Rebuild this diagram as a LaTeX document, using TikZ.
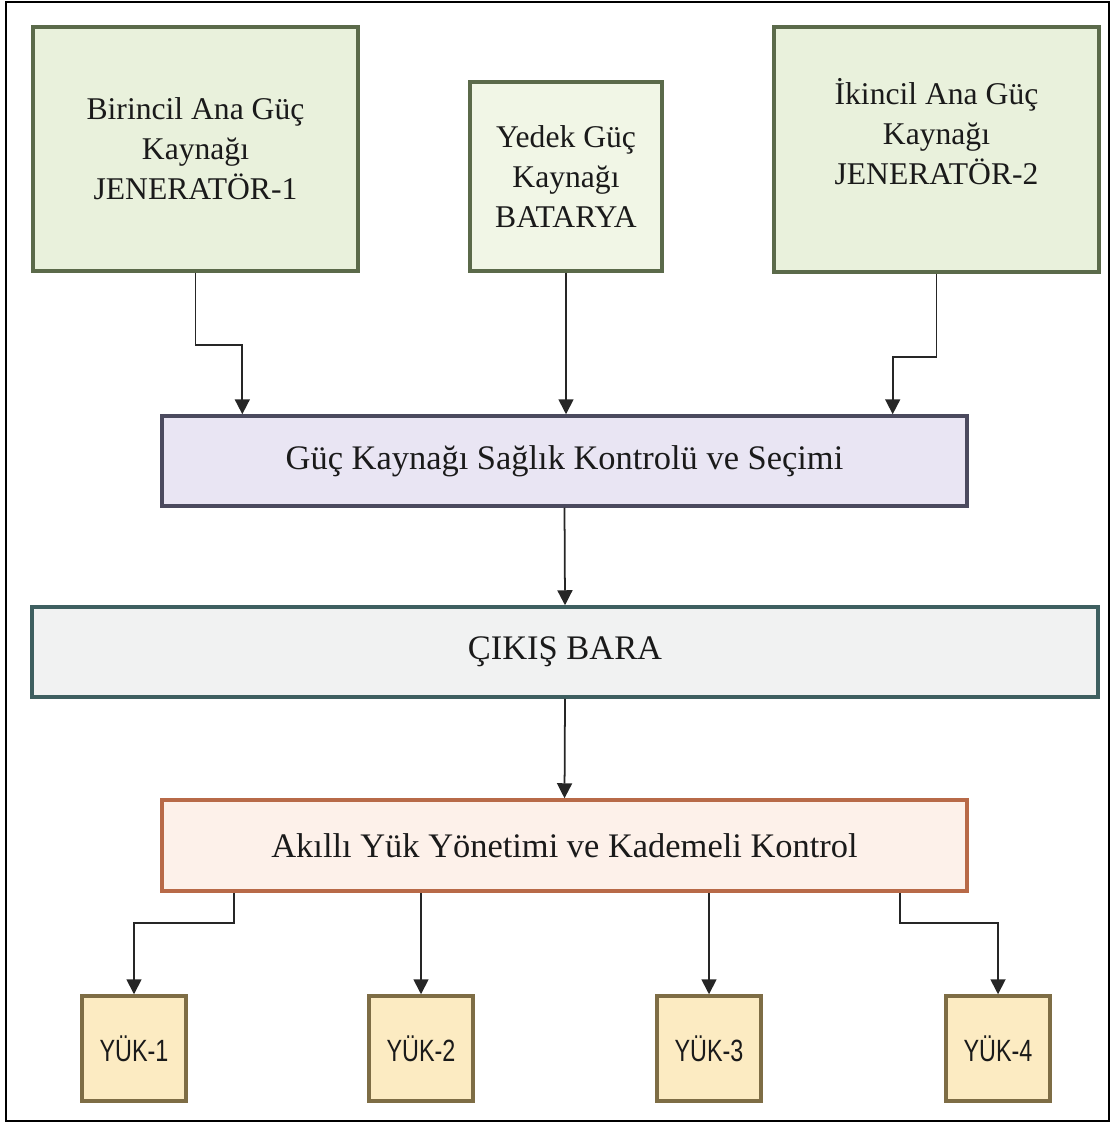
\documentclass[tikz,border=0pt]{standalone}
\usepackage{fontspec}
\setmainfont{Liberation Serif}
\newfontfamily\yukfont{Liberation Sans}[FakeStretch=0.76]
\usetikzlibrary{arrows.meta}
\definecolor{genfill}{HTML}{E9F1DC}
\definecolor{batfill}{HTML}{F1F6E6}
\definecolor{gendraw}{HTML}{5B6A4A}
\definecolor{ctrlfill}{HTML}{E9E5F3}
\definecolor{ctrldraw}{HTML}{4B4A5E}
\definecolor{barafill}{HTML}{F1F2F2}
\definecolor{baradraw}{HTML}{3E5F60}
\definecolor{yonfill}{HTML}{FDF1EA}
\definecolor{yondraw}{HTML}{B86A48}
\definecolor{yukfill}{HTML}{FCEBC2}
\definecolor{yukdraw}{HTML}{7E6D45}
\definecolor{txt}{HTML}{1A1A1A}
\tikzset{
  kaynak/.style={draw=gendraw, fill=genfill, line width=2pt, align=center, text=txt,
    font=\fontsize{18}{22.7}\selectfont, inner sep=0pt},
  blok/.style={draw=#1draw, fill=#1fill, line width=2pt, text=txt,
    font=\fontsize{19.6}{22}\selectfont, inner sep=0pt},
  yuk/.style={draw=yukdraw, fill=yukfill, line width=2pt, text=txt,
    font=\yukfont\fontsize{17.5}{20}\selectfont, inner sep=0pt,
    minimum width=2.08cm, minimum height=2.1cm},
  bag/.style={draw=black!85, line width=1pt, -{Triangle[length=0.3cm,width=0.3cm]}}
}
\begin{document}
\begin{tikzpicture}[x=0.02cm, y=-0.02cm]
\useasboundingbox (0,0) rectangle (1112,1124);
\draw[line width=1.5pt] (6,2) rectangle (1109,1121);

\node[kaynak, minimum width=6.5cm, minimum height=4.88cm] (gen1) at (195.5,149)
  {Birincil Ana Güç\\Kaynağı\\JENERATÖR-1};
\node[kaynak, fill=batfill, minimum width=3.84cm, minimum height=3.78cm] (bat) at (566,176.5)
  {Yedek Güç\\Kaynağı\\BATARYA};
\node[kaynak, minimum width=6.5cm, minimum height=4.9cm,
  label={[kaynak, draw=none, fill=none, yshift=0.36cm]center:{İkincil Ana Güç\\Kaynağı\\JENERATÖR-2}}]
  (gen2) at (936.5,149.5) {};

\node[blok=ctrl, minimum width=16.1cm, minimum height=1.8cm] (ctrl) at (564.5,461)
  {Güç Kaynağı Sağlık Kontrolü ve Seçimi};
\node[blok=bara, minimum width=21.32cm, minimum height=1.8cm] (bara) at (565,652)
  {ÇIKIŞ BARA};
\node[blok=yon, minimum width=16.1cm, minimum height=1.82cm] (yon) at (564.5,845.5)
  {Akıllı Yük Yönetimi ve Kademeli Kontrol};

\node[yuk] (y1) at (134,1048.5) {YÜK-1};
\node[yuk] (y2) at (421,1048.5) {YÜK-2};
\node[yuk] (y3) at (709,1048.5) {YÜK-3};
\node[yuk] (y4) at (998,1048.5) {YÜK-4};

\draw[bag] (gen1.south) -- ++(0,72) -| ([xshift=1.64cm]ctrl.north west);
\draw[bag] (bat.south) -- (bat.south |- ctrl.north);
\draw[bag] (gen2.south) -- ++(0,83) -| ([xshift=-1.52cm]ctrl.north east);
\draw[bag] (ctrl.south) -- (bara.north);
\draw[bag] (bara.south) -- (yon.north);
\draw[bag] ([xshift=1.48cm]yon.south west) -- ++(0,30) -| (y1.north);
\draw[bag] (yon.south -| y2.north) -- (y2.north);
\draw[bag] (yon.south -| y3.north) -- (y3.north);
\draw[bag] ([xshift=-1.38cm]yon.south east) -- ++(0,30) -| (y4.north);
\end{tikzpicture}
\end{document}
